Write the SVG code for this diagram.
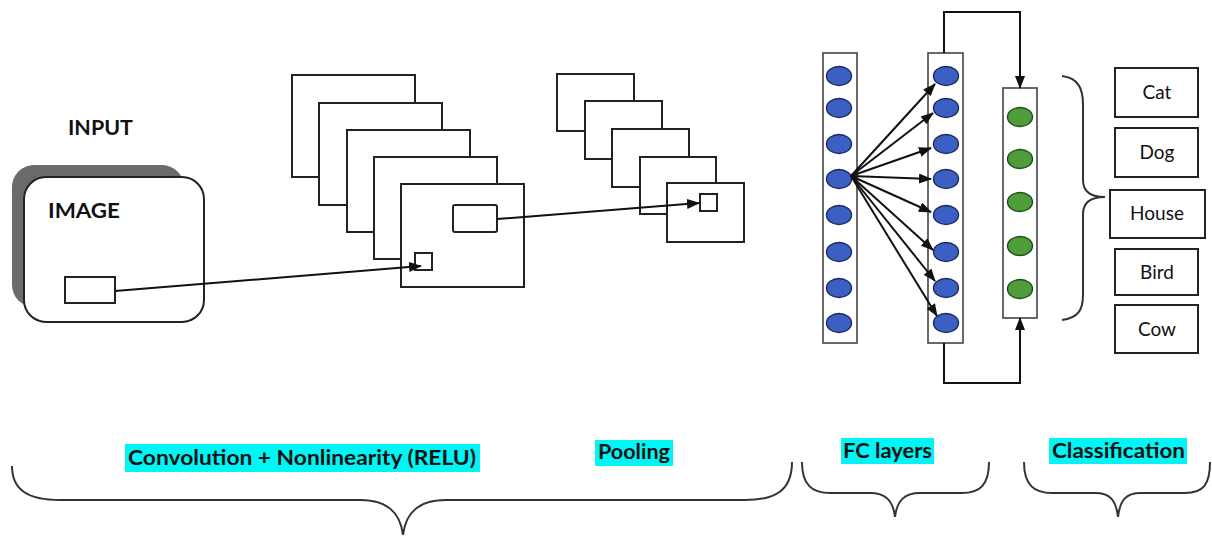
<svg xmlns="http://www.w3.org/2000/svg" width="1212" height="536" viewBox="0 0 1212 536">
<defs>
<marker id="arr" markerWidth="13" markerHeight="10" refX="12" refY="5" orient="auto" markerUnits="userSpaceOnUse">
<path d="M0,0 L13,5 L0,10 z" fill="#111"/>
</marker>
<style>
.frame{fill:#fff;stroke:#222;stroke-width:2}
.col{fill:#fff;stroke:#444;stroke-width:1.6}
.blue{fill:#3b5fc2;stroke:#1d2d63;stroke-width:1.4}
.green{fill:#4e9c3a;stroke:#244d1c;stroke-width:1.4}
.line{fill:none;stroke:#111;stroke-width:2}
.brace{fill:none;stroke:#333;stroke-width:2}
.hl{fill:#00f5f5}
.b{font-family:Lato,"Liberation Sans",sans-serif;font-weight:bold;fill:#111}
.r{font-family:Lato,"Liberation Sans",sans-serif;font-size:19px;fill:#111;text-anchor:middle}
</style>
</defs>
<rect width="1212" height="536" fill="#fff"/>

<g id="input">
<text class="b" x="68" y="135" font-size="21" textLength="65" lengthAdjust="spacingAndGlyphs">INPUT</text>
<rect x="12" y="165" width="172" height="142" rx="22" fill="#6b6b6b"/>
<rect class="frame" x="24" y="177" width="180" height="145" rx="22"/>
<text class="b" x="48" y="218" font-size="21" textLength="72" lengthAdjust="spacingAndGlyphs">IMAGE</text>
<rect class="frame" x="65" y="277" width="50" height="26"/>
</g>

<g id="conv">
<rect class="frame" x="292" y="75" width="123" height="102"/>
<rect class="frame" x="319" y="103" width="123" height="102"/>
<rect class="frame" x="347" y="130" width="123" height="102"/>
<rect class="frame" x="374" y="157" width="123" height="102"/>
<rect class="frame" x="401" y="184" width="123" height="103"/>
<rect class="frame" x="453" y="205" width="44" height="27" rx="2"/>
<rect class="frame" x="415" y="253" width="17" height="17"/>
</g>

<g id="pool">
<rect class="frame" x="557" y="74" width="77" height="57"/>
<rect class="frame" x="585" y="101" width="77" height="58"/>
<rect class="frame" x="612" y="129" width="77" height="58"/>
<rect class="frame" x="640" y="157" width="76" height="57"/>
<rect class="frame" x="667" y="183" width="77" height="59"/>
<rect class="frame" x="700" y="194" width="17" height="17"/>
</g>

<g id="fc1">
<rect class="col" x="823" y="53" width="34" height="290"/>
<ellipse class="blue" cx="839" cy="76" rx="12.5" ry="9.5"/>
<ellipse class="blue" cx="839" cy="108" rx="12.5" ry="9.5"/>
<ellipse class="blue" cx="839" cy="144" rx="12.5" ry="9.5"/>
<ellipse class="blue" cx="839" cy="179" rx="12.5" ry="9.5"/>
<ellipse class="blue" cx="839" cy="215" rx="12.5" ry="9.5"/>
<ellipse class="blue" cx="839" cy="252" rx="12.5" ry="9.5"/>
<ellipse class="blue" cx="839" cy="288" rx="12.5" ry="9.5"/>
<ellipse class="blue" cx="839" cy="323" rx="12.5" ry="9.5"/>
</g>

<g id="fc2">
<rect class="col" x="928" y="53" width="35" height="290"/>
<ellipse class="blue" cx="946" cy="76" rx="12.5" ry="9.5"/>
<ellipse class="blue" cx="946" cy="108" rx="12.5" ry="9.5"/>
<ellipse class="blue" cx="946" cy="144" rx="12.5" ry="9.5"/>
<ellipse class="blue" cx="946" cy="179" rx="12.5" ry="9.5"/>
<ellipse class="blue" cx="946" cy="215" rx="12.5" ry="9.5"/>
<ellipse class="blue" cx="946" cy="252" rx="12.5" ry="9.5"/>
<ellipse class="blue" cx="946" cy="288" rx="12.5" ry="9.5"/>
<ellipse class="blue" cx="946" cy="323" rx="12.5" ry="9.5"/>
</g>

<g id="out">
<rect class="col" x="1003" y="88" width="34" height="230"/>
<ellipse class="green" cx="1020" cy="117" rx="12.5" ry="9.5"/>
<ellipse class="green" cx="1020" cy="159" rx="12.5" ry="9.5"/>
<ellipse class="green" cx="1020" cy="202" rx="12.5" ry="9.5"/>
<ellipse class="green" cx="1020" cy="246" rx="12.5" ry="9.5"/>
<ellipse class="green" cx="1020" cy="289" rx="12.5" ry="9.5"/>
</g>

<g id="classes">
<rect class="frame" x="1115" y="68" width="83" height="49"/>
<text class="r" x="1157" y="99">Cat</text>
<rect class="frame" x="1115" y="128" width="83" height="49"/>
<text class="r" x="1157" y="159">Dog</text>
<rect class="frame" x="1110" y="190" width="95" height="48"/>
<text class="r" x="1157" y="220">House</text>
<rect class="frame" x="1115" y="249" width="83" height="46"/>
<text class="r" x="1157" y="279">Bird</text>
<rect class="frame" x="1115" y="305" width="83" height="48"/>
<text class="r" x="1157" y="336">Cow</text>
</g>

<g id="connectors">
<line class="line" x1="115" y1="291" x2="421" y2="266" marker-end="url(#arr)"/>
<line class="line" x1="497" y1="219" x2="699" y2="203" marker-end="url(#arr)"/>
<line class="line" x1="851" y1="176" x2="935" y2="84" marker-end="url(#arr)"/>
<line class="line" x1="851" y1="176" x2="933" y2="113" marker-end="url(#arr)"/>
<line class="line" x1="851" y1="176" x2="931" y2="148" marker-end="url(#arr)"/>
<line class="line" x1="851" y1="176" x2="931" y2="179" marker-end="url(#arr)"/>
<line class="line" x1="851" y1="176" x2="931" y2="212" marker-end="url(#arr)"/>
<line class="line" x1="851" y1="176" x2="933" y2="250" marker-end="url(#arr)"/>
<line class="line" x1="851" y1="176" x2="935" y2="281" marker-end="url(#arr)"/>
<line class="line" x1="851" y1="176" x2="937" y2="316" marker-end="url(#arr)"/>
<path class="line" d="M944,53 L944,12 L1020,12 L1020,88" marker-end="url(#arr)"/>
<path class="line" d="M944,343 L944,383 L1020,383 L1020,318" marker-end="url(#arr)"/>
</g>

<g id="braces">
<path class="brace" d="M1062,76 C1078,78 1083,88 1083,105 L1083,180 C1083,192 1092,197 1105,197 C1092,197 1083,202 1083,214 L1083,295 C1083,310 1078,318 1062,320"/>
<path class="brace" d="M12,466 C12,490 28,500 60,500 L360,500 C385,500 400,510 403,535 C406,510 421,500 446,500 L745,500 C776,500 792,490 792,462"/>
<path class="brace" d="M802,462 C802,485 812,493 830,493 L870,493 C885,493 893,500 895,517 C897,500 905,493 920,493 L962,493 C980,493 989,485 989,462"/>
<path class="brace" d="M1024,462 C1024,485 1034,493 1052,493 L1095,493 C1110,493 1116,500 1118,517 C1120,500 1126,493 1141,493 L1185,493 C1203,493 1210,485 1210,462"/>
</g>

<g id="labels">
<rect class="hl" x="125" y="444" width="355" height="28"/>
<text class="b" x="128" y="465" font-size="20" textLength="348" lengthAdjust="spacingAndGlyphs">Convolution + Nonlinearity (RELU)</text>
<rect class="hl" x="595" y="440" width="78" height="26"/>
<text class="b" x="598" y="459" font-size="20" textLength="72" lengthAdjust="spacingAndGlyphs">Pooling</text>
<rect class="hl" x="841" y="438" width="93" height="26"/>
<text class="b" x="843" y="458" font-size="20" textLength="89" lengthAdjust="spacingAndGlyphs">FC layers</text>
<rect class="hl" x="1049" y="438" width="138" height="26"/>
<text class="b" x="1052" y="458" font-size="20" textLength="133" lengthAdjust="spacingAndGlyphs">Classification</text>
</g>
</svg>
